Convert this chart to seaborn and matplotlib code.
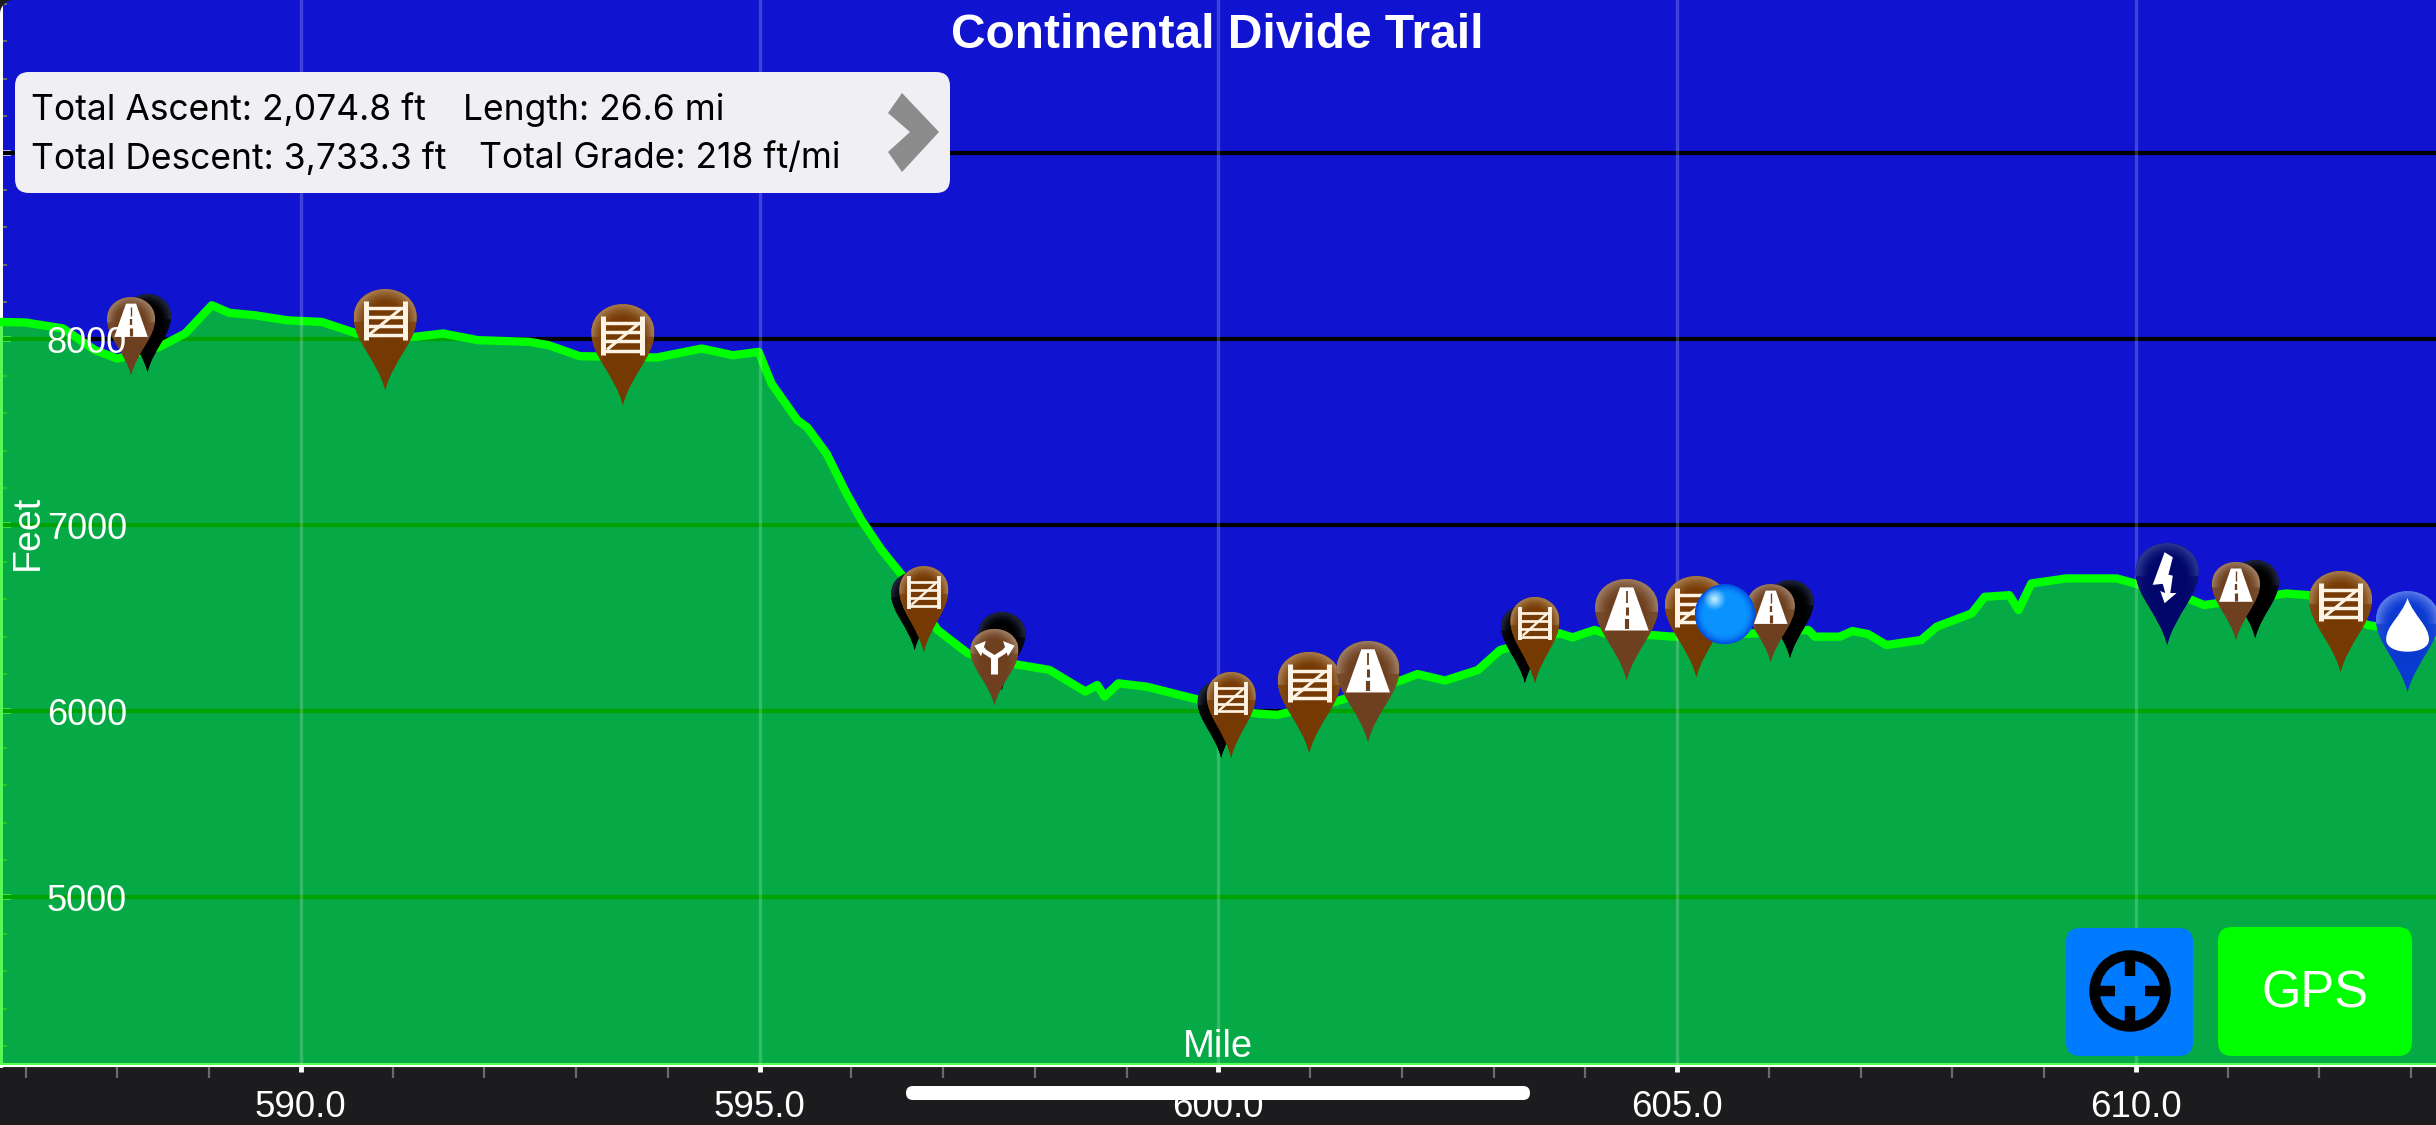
import matplotlib
matplotlib.use('Agg')
import matplotlib.pyplot as plt
import numpy as np
import seaborn as sns
from matplotlib.patches import Circle, FancyBboxPatch, PathPatch, Polygon
from matplotlib.path import Path
from matplotlib.ticker import MultipleLocator
from matplotlib.transforms import Affine2D

# elevation profile
profile_miles = [586.72, 587.0, 587.41, 587.76, 588.0, 588.46, 588.74, 589.03, 589.22, 589.5,
                 589.85, 590.23, 590.61, 591.24, 591.55, 591.93, 592.49, 592.7, 593.04, 593.88,
                 594.37, 594.71, 594.99, 595.13, 595.41, 595.52, 595.73, 595.95, 596.11, 596.33,
                 596.55, 596.94, 597.27, 597.83, 598.16, 598.55, 598.68, 598.76, 598.91, 599.22,
                 599.72, 600.39, 600.64, 601.28, 602.0, 602.17, 602.47, 602.83, 603.07, 603.72,
                 603.86, 604.1, 604.3, 604.71, 604.95, 605.5, 606.43, 606.5, 606.77, 606.91,
                 607.08, 607.28, 607.66, 607.83, 608.21, 608.35, 608.62, 608.72, 608.86, 609.24,
                 609.79, 609.99, 610.61, 610.74, 611.64, 611.88, 612.53, 613.27]
profile_feet = [8092, 8089, 8057, 7940, 7895, 7958, 8030, 8182, 8141, 8128,
                8101, 8092, 8030, 8012, 8030, 7994, 7985, 7967, 7908, 7901,
                7949, 7913, 7931, 7761, 7565, 7525, 7384, 7167, 7027, 6866,
                6732, 6436, 6310, 6248, 6221, 6105, 6140, 6078, 6149, 6131,
                6069, 5988, 5979, 6051, 6167, 6199, 6164, 6221, 6328, 6418,
                6396, 6436, 6403, 6409, 6400, 6408, 6436, 6400, 6400, 6430,
                6414, 6355, 6382, 6454, 6525, 6614, 6623, 6543, 6686, 6713,
                6713, 6686, 6597, 6570, 6632, 6623, 6462, 6408]

# waypoint pins, tip position of each one
pin_miles = [588.33, 588.15, 590.92, 593.51, 596.69, 596.79, 597.64, 597.56, 600.03, 600.14, 600.99, 601.63,
             603.34, 603.45, 604.45, 605.21, 606.23, 606.02, 610.34, 611.30, 611.09, 612.23, 612.96]
pin_feet = [7822, 7806, 7726, 7645, 6328, 6317, 6113, 6033, 5748, 5748, 5775, 5834,
            6151, 6151, 6167, 6183, 6285, 6263, 6355, 6392, 6382, 6210, 6102]
pin_kinds = ['hidden', 'road_s', 'gate', 'gate', 'hidden', 'gate_s', 'hidden', 'fork', 'hidden', 'gate_s', 'gate', 'road',
             'hidden', 'gate_s', 'road', 'gate', 'hidden', 'road_s', 'power', 'hidden', 'road_s', 'gate', 'water']
current_mile = 605.52
current_feet = 6521

x_major = [590, 595, 600, 605, 610]
x_labels = ['590.0', '595.0', '600.0', '605.0', '610.0']
y_major = [5000, 6000, 7000, 8000, 9000]
# the 9000 label is hidden by the info box in the reference
y_labelled = [5000, 6000, 7000, 8000]
y_labels = ['5000', '6000', '7000', '8000']
title = 'Continental Divide Trail'
info_left = ['Total Ascent: 2,074.8 ft', 'Total Descent: 3,733.3 ft']
info_right = ['Length: 26.6 mi', 'Total Grade: 218 ft/mi']

W, H = 2436, 1125
FONT = ['Liberation Sans', 'DejaVu Sans']
BAND = '#1c1c1e'
SKY = '#1014d0'

# width, height, base colour, rim colour
pin_style = {
    'hidden': (47, 78, '#000000', '#20263c'),
    'road_s': (48, 78, '#6e4020', '#9a7a60'),
    'road': (63, 101, '#6e4020', '#9a7a60'),
    'fork': (48, 76, '#6e4020', '#9a7a60'),
    'gate_s': (49, 86, '#763a04', '#a57a4c'),
    'gate': (63, 101, '#763a04', '#a57a4c'),
    'power': (63, 102, '#00066a', '#2a3690'),
    'water': (63, 101, '#0a3ad0', '#5878e8'),
}

sns.set_theme(style='dark')
plt.rcParams['font.family'] = FONT

fig = plt.figure(figsize=(W / 100, H / 100), dpi=100, facecolor=BAND)
ax = fig.add_axes([0, (H - 1065) / H, 1, 1065 / H])
ax.set_facecolor(SKY)
xlim = (586.722, 613.27)
ylim = (4097, 9823)

for v in y_major:
    ax.axhline(v, color='black', lw=3, zorder=1)

ax.fill_between(profile_miles, profile_feet, ylim[0], color=(0, 0.96, 0), alpha=0.667, lw=0, zorder=3)
sns.lineplot(x=profile_miles, y=profile_feet, color='#00ff00', linewidth=6, errorbar=None, ax=ax, zorder=4)
for v in x_major:
    ax.axvline(v, color='white', lw=2.4, alpha=0.2, zorder=5)

ax.set_xlim(xlim)
ax.set_ylim(ylim)
ax.set_axisbelow(True)
ax.grid(False)
for side in ['top', 'right']:
    ax.spines[side].set_visible(False)
ax.spines['left'].set_color('white')
ax.spines['left'].set_linewidth(4.3)
ax.spines['left'].set_zorder(2)
ax.spines['bottom'].set_color('white')
ax.spines['bottom'].set_linewidth(3)
ax.spines['bottom'].set_zorder(2)

ax.set_xticks(x_major, x_labels)
ax.xaxis.set_minor_locator(MultipleLocator(1))
ax.yaxis.set_minor_locator(MultipleLocator(200))
ax.set_yticks(y_major)
ax.tick_params(axis='x', which='major', direction='out', length=5, width=3.5, color='white',
               labelcolor='white', labelsize=26.5, pad=13, bottom=True)
ax.tick_params(axis='x', which='minor', direction='out', length=9, width=1.6, color='#6a6a6a', bottom=True)
ax.tick_params(axis='y', which='major', direction='in', length=8, width=4, color='white', labelleft=False, left=True)
ax.tick_params(axis='y', which='minor', direction='in', length=5, width=1.5, color='#6a6a6a', left=True)

# labels sit inside the plot, on top of the terrain and the pins
for v, lab in zip(y_labelled, y_labels):
    ax.text(127 / W, v, lab, color='white', fontsize=26, ha='right', va='center_baseline',
            transform=ax.get_yaxis_transform(), zorder=8)
ax.text(0.5, 0.0, 'Mile', color='white', fontsize=27.5, ha='center', va='bottom', transform=ax.transAxes, zorder=8)
ax.text(28 / W, 0.5, 'Feet', color='white', fontsize=27, rotation=90, ha='center', va='center',
        transform=ax.transAxes, zorder=8)

# teardrop in unit box, tip at the origin
TEAR = Path(
    [(0, 0), (-0.12, 0.3), (-0.5, 0.48), (-0.5, 0.72), (-0.5, 0.9), (-0.25, 1), (0, 1),
     (0.25, 1), (0.5, 0.9), (0.5, 0.72), (0.5, 0.48), (0.12, 0.3), (0, 0), (0, 0)],
    [Path.MOVETO] + [Path.CURVE4] * 12 + [Path.CLOSEPOLY])


def pin_gradient(base, rim):
    b = np.array(matplotlib.colors.to_rgb(base))
    r = np.array(matplotlib.colors.to_rgb(rim))
    yy, xx = np.mgrid[1:0:120j, -0.5:0.5:60j]
    d = np.sqrt((xx / 0.5) ** 2 + ((yy - 0.68) / 0.32) ** 2)
    t = np.clip((d - 0.55) / 0.45, 0, 1) ** 1.5
    t[yy < 0.68] = np.clip(np.abs(xx[yy < 0.68]) / 0.5 - 0.55, 0, 1) * 0.6
    return b + (r - b) * t[..., None]


def glyph_line(xs, ys, color, lw, aff, z, cap='butt'):
    ax.plot(xs, ys, color=color, lw=lw, transform=aff, zorder=z, clip_on=False,
            scalex=False, scaley=False, solid_capstyle=cap)


def draw_glyph(kind, aff, z):
    white = dict(facecolor='white', edgecolor='none', transform=aff, zorder=z, clip_on=False)
    base = pin_style[kind][2]
    k = pin_style[kind][0] / 63
    if kind.startswith('gate'):
        for x in (-0.31, 0.31):
            glyph_line((x, x), (0.5, 0.88), '#fdf3e4', 3.6 * k, aff, z)
        for y in (0.54, 0.63, 0.72, 0.81):
            glyph_line((-0.31, 0.31), (y, y), '#fdf3e4', 2.5 * k, aff, z)
        glyph_line((-0.25, 0.24), (0.55, 0.8), '#fdf3e4', 2.2 * k, aff, z)
    elif kind.startswith('road'):
        ax.add_patch(Polygon([(-0.35, 0.49), (-0.105, 0.917), (0.105, 0.917), (0.35, 0.49)], **white))
        glyph_line((0, 0), (0.5, 0.6), base, 3 * k, aff, z + 0.0001)
        glyph_line((0, 0), (0.64, 0.72), base, 2.2 * k, aff, z + 0.0001)
        glyph_line((0, 0), (0.76, 0.88), base, 1.3 * k, aff, z + 0.0001)
    elif kind == 'fork':
        glyph_line((0, 0), (0.41, 0.64), 'white', 5, aff, z)
        glyph_line((0, -0.2, -0.3), (0.62, 0.7, 0.77), 'white', 3.4, aff, z)
        glyph_line((0, 0.2, 0.3), (0.62, 0.7, 0.77), 'white', 3.4, aff, z)
        ax.add_patch(Polygon([(-0.42, 0.78), (-0.18, 0.84), (-0.28, 0.64)], **white))
        ax.add_patch(Polygon([(0.42, 0.78), (0.18, 0.84), (0.28, 0.64)], **white))
    elif kind == 'power':
        ax.add_patch(Polygon([(-0.04, 0.91), (0.09, 0.86), (0.02, 0.69), (0.09, 0.68), (0.05, 0.51), (0.15, 0.51),
                              (-0.04, 0.41), (-0.11, 0.53), (-0.03, 0.51), (-0.07, 0.6), (-0.23, 0.59)], **white))
    elif kind == 'water':
        drop = Path([(0, 0.93), (-0.1, 0.75), (-0.34, 0.66), (-0.34, 0.52), (-0.34, 0.44), (-0.18, 0.4), (0, 0.4),
                     (0.18, 0.4), (0.34, 0.44), (0.34, 0.52), (0.34, 0.66), (0.1, 0.75), (0, 0.93), (0, 0.93)],
                    [Path.MOVETO] + [Path.CURVE4] * 12 + [Path.CLOSEPOLY])
        ax.add_patch(PathPatch(drop, **white))


fig.canvas.draw()
order = sorted(range(len(pin_kinds)), key=lambda i: pin_kinds[i] != 'hidden')
for n, i in enumerate(order):
    kind = pin_kinds[i]
    w, h, base, rim = pin_style[kind]
    tx, ty = ax.transData.transform((pin_miles[i], pin_feet[i]))
    aff = Affine2D().scale(w, h).translate(tx, ty)
    z = 6 + n * 0.01
    clip = PathPatch(TEAR, transform=aff, facecolor=base, edgecolor='none', zorder=z, clip_on=False)
    ax.add_patch(clip)
    im = ax.imshow(pin_gradient(base, rim), extent=(-0.5, 0.5, 0, 1), transform=aff, aspect='auto',
                   zorder=z + 0.001, interpolation='bilinear')
    im.set_clip_path(clip)
    draw_glyph(kind, aff, z + 0.002)

# current position bubble
cx, cy = ax.transData.transform((current_mile, current_feet))
aff = Affine2D().scale(30).translate(cx, cy)
yy, xx = np.mgrid[1:-1:120j, -1:1:120j]
rr = np.sqrt(xx ** 2 + yy ** 2)
spot = np.clip(1 - np.sqrt((xx + 0.35) ** 2 + (yy - 0.5) ** 2) / 0.38, 0, 1)[..., None]
mid = np.array([0.04, 0.58, 1.0])
edge = np.array([0.0, 0.3, 0.88])
bubble = mid + (edge - mid) * (np.clip((rr - 0.65) / 0.35, 0, 1) ** 2)[..., None]
bubble = bubble + (np.array([0.8, 0.95, 1.0]) - bubble) * spot
clip = Circle((0, 0), 1, facecolor='#0a60e0', edgecolor='none', transform=aff, zorder=7, clip_on=False)
ax.add_patch(clip)
im = ax.imshow(bubble, extent=(-1, 1, -1, 1), transform=aff, aspect='auto', zorder=7.01, interpolation='bilinear')
im.set_clip_path(clip)

ax.set_xlim(xlim)
ax.set_ylim(ylim)

# screen furniture lives in pixel coordinates on a second axes
ui = fig.add_axes([0, 0, 1, 1], facecolor='none')
ui.set_xlim(0, W)
ui.set_ylim(H, 0)
ui.axis('off')


def round_box(x0, y0, x1, y1, r, color):
    ui.add_patch(FancyBboxPatch((x0 + r, y0 + r), x1 - x0 - 2 * r, y1 - y0 - 2 * r,
                                boxstyle=f'round,pad={r},rounding_size={r}', facecolor=color, edgecolor='none'))


ui.text(1217, 35, title, color='white', fontsize=34.5, fontweight='bold', ha='center', va='center')

round_box(15, 72, 950, 193, 14, '#efeff4')
ui.text(31, 110, info_left[0], color='black', fontsize=25.5, va='center', family='Inter')
ui.text(31, 159, info_left[1], color='black', fontsize=25.5, va='center', family='Inter')
ui.text(463, 110, info_right[0], color='black', fontsize=25.5, va='center', family='Inter')
ui.text(479, 159, info_right[1], color='black', fontsize=25.5, va='center', family='Inter')
ui.add_patch(Polygon([(888, 113), (902, 93), (939, 132), (902, 172), (888, 152), (910, 132)],
                     facecolor='#8c8c8c', edgecolor='none'))

round_box(2066, 928, 2193, 1056, 14, '#007aff')
ui.add_patch(Circle((2130, 991), 35.5, facecolor='none', edgecolor='black', lw=7.5))
for x0, y0, x1, y1 in [(2130, 958, 2130, 976), (2130, 1006, 2130, 1024), (2097, 991, 2115, 991), (2145, 991, 2163, 991)]:
    ui.plot([x0, x1], [y0, y1], color='black', lw=7.5, solid_capstyle='butt')
round_box(2218, 927, 2412, 1056, 14, '#00ff00')
ui.text(2315, 994, 'GPS', color='white', fontsize=36.5, ha='center', va='center')

round_box(906, 1086, 1530, 1100, 7, 'white')

# rounded screen corner, top left
a = np.linspace(np.pi, 1.5 * np.pi, 12)
corner = [(0, 0)] + list(zip(14 + 14 * np.cos(a), 14 + 14 * np.sin(a)))
ui.add_patch(Polygon(corner, facecolor=BAND, edgecolor='none'))

fig.savefig('out.png', dpi=100, facecolor=BAND)
